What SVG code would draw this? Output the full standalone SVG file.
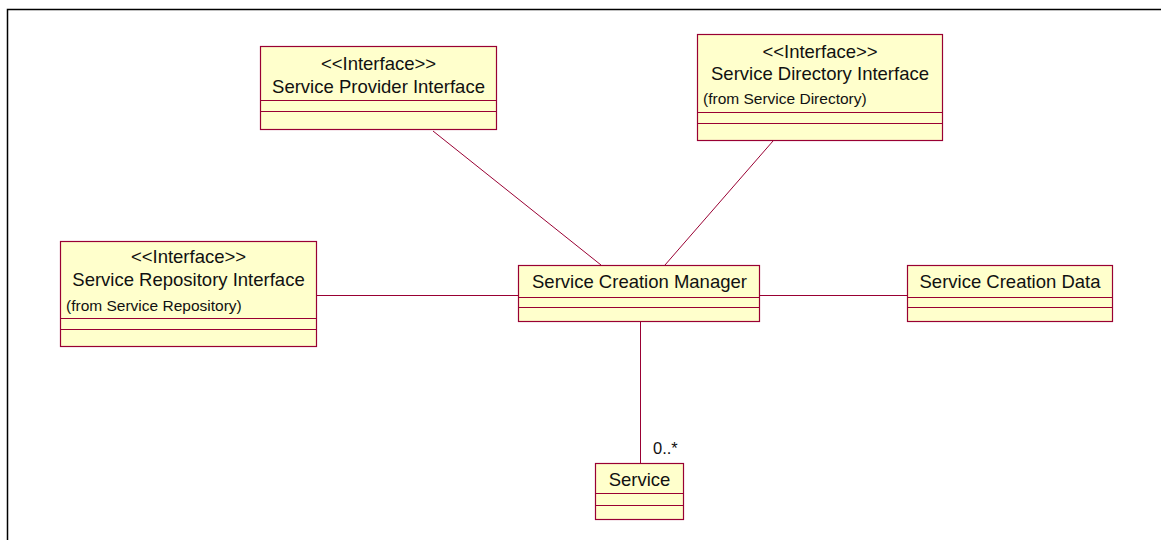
<svg xmlns="http://www.w3.org/2000/svg" width="1161" height="540" viewBox="0 0 1161 540">
<style>
.box{fill:#ffffcc;stroke:#990033;stroke-width:1.2}
.div{stroke:#990033;stroke-width:1.2;fill:none}
.con{stroke:#990033;stroke-width:1;fill:none}
text{font-family:"Liberation Sans",Arial,sans-serif;fill:#111}
.t{font-size:18.5px;text-anchor:middle}
.s{font-size:15.5px}
</style>
<rect width="1161" height="540" fill="#ffffff"/>
<path d="M7.5 540 V9.5 H1161" fill="none" stroke="#000" stroke-width="1.5"/>
<g id="connectors">
<line class="con" x1="433" y1="131" x2="601" y2="265"/>
<line class="con" x1="773" y1="141" x2="665" y2="265"/>
<line class="con" x1="316" y1="295.5" x2="518" y2="295.5"/>
<line class="con" x1="759" y1="295.5" x2="907" y2="295.5"/>
<line class="con" x1="640.5" y1="322" x2="640.5" y2="463"/>
<text x="653" y="454" style="font-size:16.5px">0..*</text>
</g>
<g id="service-provider-interface">
<rect class="box" x="260.5" y="46.5" width="236" height="83"/>
<line class="div" x1="260.5" y1="100.5" x2="496.5" y2="100.5"/>
<line class="div" x1="260.5" y1="111.5" x2="496.5" y2="111.5"/>
<text class="t" x="378.5" y="70">&lt;&lt;Interface&gt;&gt;</text>
<text class="t" x="378.5" y="93">Service Provider Interface</text>
</g>
<g id="service-directory-interface">
<rect class="box" x="697.5" y="34.5" width="245" height="106"/>
<line class="div" x1="697.5" y1="112.5" x2="942.5" y2="112.5"/>
<line class="div" x1="697.5" y1="123.5" x2="942.5" y2="123.5"/>
<text class="t" x="820" y="58">&lt;&lt;Interface&gt;&gt;</text>
<text class="t" x="820" y="80">Service Directory Interface</text>
<text class="s" x="703" y="104">(from Service Directory)</text>
</g>
<g id="service-repository-interface">
<rect class="box" x="60.5" y="241.5" width="256" height="105"/>
<line class="div" x1="60.5" y1="318.5" x2="316.5" y2="318.5"/>
<line class="div" x1="60.5" y1="329.5" x2="316.5" y2="329.5"/>
<text class="t" x="188.5" y="263">&lt;&lt;Interface&gt;&gt;</text>
<text class="t" x="188.5" y="286">Service Repository Interface</text>
<text class="s" x="66" y="311">(from Service Repository)</text>
</g>
<g id="service-creation-manager">
<rect class="box" x="518.5" y="265.5" width="241" height="56"/>
<line class="div" x1="518.5" y1="297.5" x2="759.5" y2="297.5"/>
<line class="div" x1="518.5" y1="307.5" x2="759.5" y2="307.5"/>
<text class="t" x="639.5" y="287.5">Service Creation Manager</text>
</g>
<g id="service-creation-data">
<rect class="box" x="907.5" y="265.5" width="205" height="56"/>
<line class="div" x1="907.5" y1="297.5" x2="1112.5" y2="297.5"/>
<line class="div" x1="907.5" y1="307.5" x2="1112.5" y2="307.5"/>
<text class="t" x="1010" y="287.5">Service Creation Data</text>
</g>
<g id="service">
<rect class="box" x="595.5" y="463.5" width="88" height="56"/>
<line class="div" x1="595.5" y1="493.5" x2="683.5" y2="493.5"/>
<line class="div" x1="595.5" y1="505.5" x2="683.5" y2="505.5"/>
<text class="t" x="639.5" y="485.5">Service</text>
</g>
</svg>
